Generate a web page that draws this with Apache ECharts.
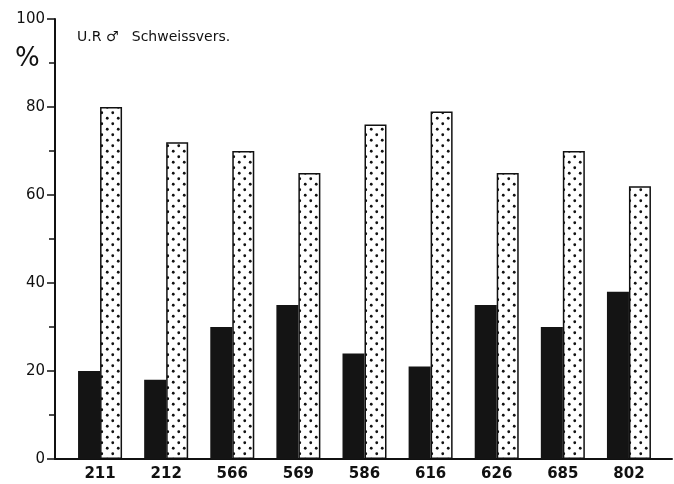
<!DOCTYPE html>
<html>
<head>
<meta charset="utf-8">
<script src="https://cdn.jsdelivr.net/npm/echarts@6/dist/echarts.min.js"></script>
<style>
  html, body { margin: 0; padding: 0; background: #fff; }
  #app { width: 674px; height: 484px; }
</style>
</head>
<body>
<div id="app"></div>
<script>
// values (% per sample)
const categories = ["211", "212", "566", "569", "586", "616", "626", "685", "802"];
const blackValues = [20, 18, 30, 35, 24, 21, 35, 30, 38];
const dottedValues = [80, 72, 70, 65, 76, 79, 65, 70, 62];

const FONT = "DejaVu Sans";

// dotted fill, like the screen tone in the print
function dotPattern() {
  const c = document.createElement("canvas");
  c.width = 11;
  c.height = 11;
  const ctx = c.getContext("2d");
  ctx.fillStyle = "#fff";
  ctx.fillRect(0, 0, 11, 11);
  ctx.fillStyle = "#111";
  [[2.75, 2.75], [8.25, 8.25]].forEach(([x, y]) => {
    ctx.beginPath();
    ctx.arc(x, y, 1.4, 0, Math.PI * 2);
    ctx.fill();
  });
  return c;
}

const chart = echarts.init(document.getElementById("app"));

chart.setOption({
  backgroundColor: "#fff",
  animation: false,
  title: [
    {
      text: "U.R ♂   Schweissvers.",
      left: 77,
      top: 30,
      padding: 0,
      textStyle: { fontFamily: FONT, fontSize: 14, fontWeight: "normal", color: "#111" }
    },
    {
      text: "%",
      left: 15,
      top: 46,
      padding: 0,
      textStyle: { fontFamily: FONT, fontSize: 26, fontWeight: "normal", color: "#111" }
    }
  ],
  grid: [
    { left: 67, right: 12, top: 19, bottom: 25 },
    // only used to draw the long baseline
    { left: 55, right: 2, top: 19, bottom: 25 }
  ],
  xAxis: [
    {
      type: "category",
      data: categories,
      gridIndex: 0,
      axisLine: { show: false },
      axisTick: { show: false },
      axisLabel: {
        margin: 8,
        fontFamily: FONT,
        fontSize: 15,
        fontWeight: "bold",
        color: "#111"
      }
    },
    {
      type: "value",
      gridIndex: 1,
      min: 0,
      max: 1,
      axisLine: { show: true, onZero: false, lineStyle: { color: "#111", width: 2 } },
      axisTick: { show: false },
      axisLabel: { show: false },
      splitLine: { show: false }
    }
  ],
  yAxis: [
    {
      type: "value",
      gridIndex: 0,
      min: 0,
      max: 100,
      interval: 20,
      offset: 12,
      axisLine: { show: true, lineStyle: { color: "#111", width: 2 } },
      axisTick: { show: true, length: 8, lineStyle: { color: "#111", width: 1.5 } },
      minorTick: { show: true, splitNumber: 2, length: 6, lineStyle: { color: "#111", width: 1.5 } },
      splitLine: { show: false },
      axisLabel: {
        margin: 10,
        fontFamily: FONT,
        fontSize: 15,
        color: "#111",
        verticalAlign: "middle",
        padding: [0, 0, 8, 0]
      }
    },
    {
      type: "value",
      gridIndex: 1,
      show: false
    }
  ],
  series: [
    {
      type: "bar",
      data: blackValues,
      barWidth: 22,
      barGap: "0%",
      itemStyle: { color: "#141414" }
    },
    {
      type: "bar",
      data: dottedValues,
      barWidth: 22,
      itemStyle: {
        color: { image: dotPattern(), repeat: "repeat" },
        borderColor: "#111",
        borderWidth: 1.5
      }
    }
  ]
});
</script>
</body>
</html>
